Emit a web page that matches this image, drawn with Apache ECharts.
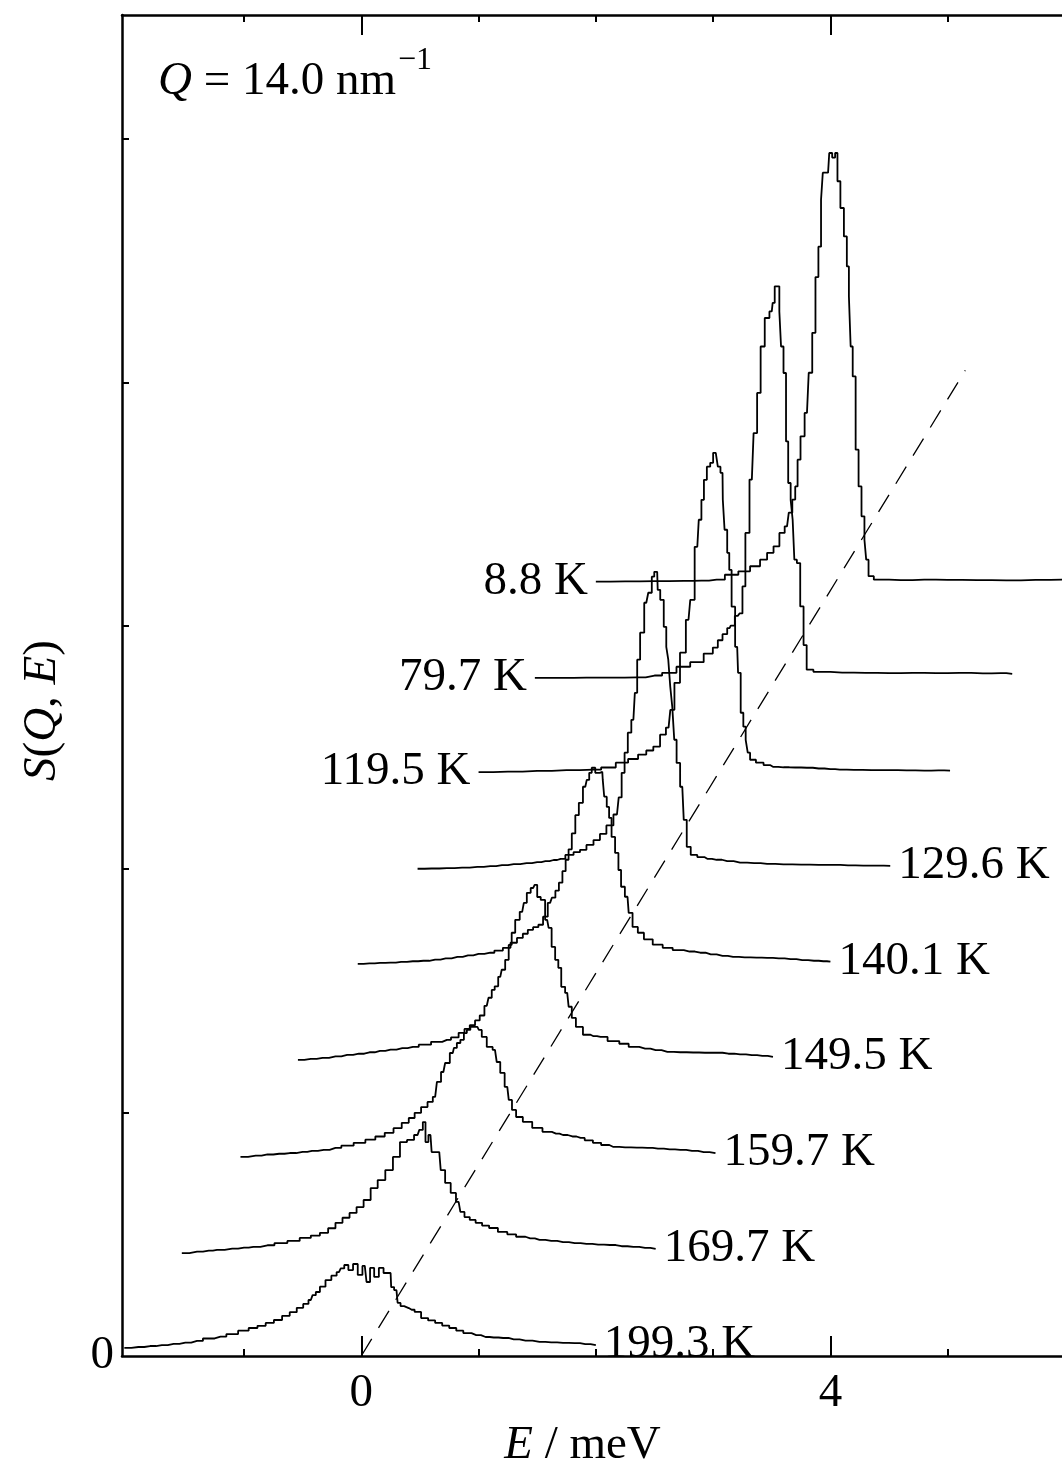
<!DOCTYPE html>
<html><head><meta charset="utf-8">
<script src="https://cdn.jsdelivr.net/npm/echarts@6/dist/echarts.min.js"></script>
<style>html,body{margin:0;padding:0;background:#fff}#c{width:1062px;height:1472px}</style>
</head><body><div id="c"></div>
<script>
// ---- data (own-frame energy E in meV, intensity S), waterfall shifts ----
const temps  = ['199.3 K','169.7 K','159.7 K','149.5 K','140.1 K','129.6 K','119.5 K','79.7 K','8.8 K'];
const shiftE = [0, 0.5, 1.0, 1.5, 2.0, 2.5, 3.0, 3.5, 4.0];
const shiftS = [0, 0.393, 0.786, 1.179, 1.572, 1.965, 2.358, 2.751, 3.144];
const labelSide = ['right','right','right','right','right','right','left','left','left'];

const E_1993 = [-2.02,-1.9,-1.8,-1.7,-1.6,-1.5,-1.4,-1.3,-1.2,-1.1,-1.0,-0.92,-0.85,-0.78,-0.71,-0.64,-0.58,-0.52,-0.47,-0.43,-0.40,-0.375,-0.33,-0.28,-0.23,-0.19,-0.16,-0.13,-0.09,-0.05,-0.01,0.03,0.06,0.09,0.13,0.17,0.21,0.25,0.26,0.30,0.32,0.35,0.38,0.43,0.48,0.54,0.60,0.66,0.72,0.78,0.84,0.90,0.98,1.06,1.13,1.21,1.30,1.40,1.52,1.62,1.72,1.82,1.91,2.00];
const S_1993 = [0.033,0.037,0.041,0.045,0.050,0.055,0.062,0.072,0.080,0.090,0.104,0.115,0.124,0.136,0.148,0.165,0.180,0.198,0.214,0.230,0.250,0.263,0.285,0.312,0.330,0.345,0.360,0.374,0.353,0.378,0.333,0.370,0.304,0.362,0.325,0.362,0.341,0.341,0.283,0.271,0.218,0.205,0.197,0.190,0.181,0.156,0.146,0.136,0.125,0.115,0.104,0.094,0.086,0.078,0.076,0.074,0.068,0.063,0.058,0.056,0.054,0.053,0.049,0.045];

const E_1697 = [-2.03,-1.9,-1.8,-1.73,-1.6,-1.5,-1.42,-1.3,-1.18,-1.08,-0.97,-0.89,-0.815,-0.75,-0.69,-0.63,-0.57,-0.51,-0.45,-0.39,-0.33,-0.26,-0.20,-0.14,-0.08,-0.02,0.01,0.04,0.055,0.09,0.11,0.165,0.19,0.24,0.285,0.33,0.36,0.40,0.45,0.50,0.56,0.62,0.71,0.78,0.86,0.94,1.02,1.12,1.22,1.32,1.42,1.52,1.62,1.72,1.82,1.92,2.01];
const S_1697 = [0.030,0.036,0.040,0.043,0.048,0.052,0.055,0.062,0.071,0.080,0.092,0.102,0.113,0.132,0.154,0.175,0.195,0.219,0.248,0.297,0.330,0.371,0.425,0.486,0.495,0.515,0.536,0.568,0.486,0.515,0.445,0.445,0.371,0.318,0.277,0.240,0.199,0.178,0.166,0.154,0.143,0.133,0.117,0.107,0.097,0.090,0.084,0.080,0.075,0.071,0.068,0.065,0.063,0.058,0.055,0.051,0.047];

const E_1597 = [-2.03,-1.9,-1.8,-1.7,-1.61,-1.5,-1.42,-1.32,-1.22,-1.12,-1.01,-0.92,-0.84,-0.76,-0.69,-0.62,-0.57,-0.52,-0.46,-0.41,-0.37,-0.34,-0.30,-0.27,-0.22,-0.20,-0.17,-0.14,-0.11,-0.09,-0.05,-0.01,0.015,0.04,0.10,0.14,0.17,0.20,0.245,0.27,0.30,0.34,0.415,0.50,0.59,0.66,0.72,0.80,0.87,0.94,1.01,1.08,1.15,1.25,1.35,1.44,1.53,1.63,1.72,1.82,1.92,2.02];
const S_1597 = [0.032,0.037,0.042,0.045,0.048,0.053,0.057,0.061,0.069,0.078,0.090,0.103,0.116,0.131,0.150,0.172,0.192,0.213,0.237,0.258,0.279,0.340,0.381,0.418,0.459,0.480,0.500,0.513,0.541,0.554,0.566,0.566,0.554,0.525,0.484,0.472,0.422,0.377,0.320,0.266,0.225,0.196,0.176,0.151,0.135,0.128,0.122,0.116,0.110,0.100,0.090,0.081,0.073,0.071,0.070,0.069,0.066,0.063,0.061,0.057,0.052,0.048];

const E_1495 = [-2.04,-1.93,-1.83,-1.72,-1.62,-1.52,-1.43,-1.34,-1.25,-1.15,-1.06,-0.96,-0.85,-0.77,-0.70,-0.64,-0.60,-0.55,-0.51,-0.47,-0.43,-0.40,-0.375,-0.35,-0.315,-0.29,-0.256,-0.23,-0.205,-0.17,-0.128,-0.10,-0.077,-0.034,-0.01,0.01,0.05,0.085,0.11,0.136,0.17,0.19,0.22,0.256,0.28,0.31,0.35,0.43,0.48,0.54,0.66,0.74,0.82,0.92,1.01,1.11,1.22,1.33,1.43,1.53,1.63,1.73,1.83,1.92,2.01];
const S_1495 = [0.038,0.042,0.046,0.052,0.058,0.063,0.069,0.075,0.080,0.086,0.091,0.100,0.112,0.120,0.130,0.149,0.165,0.180,0.200,0.220,0.260,0.293,0.325,0.340,0.379,0.408,0.449,0.510,0.560,0.613,0.646,0.683,0.724,0.744,0.757,0.707,0.695,0.613,0.580,0.502,0.449,0.416,0.338,0.313,0.256,0.210,0.173,0.141,0.135,0.132,0.115,0.104,0.091,0.084,0.078,0.071,0.069,0.068,0.067,0.067,0.063,0.060,0.057,0.054,0.050];

const E_1401 = [-2.03,-1.93,-1.84,-1.75,-1.66,-1.56,-1.47,-1.37,-1.28,-1.18,-1.09,-1.00,-0.90,-0.83,-0.755,-0.70,-0.645,-0.60,-0.56,-0.51,-0.47,-0.43,-0.39,-0.36,-0.33,-0.30,-0.27,-0.245,-0.22,-0.19,-0.16,-0.13,-0.09,-0.065,-0.048,-0.022,0.012,0.055,0.063,0.08,0.106,0.12,0.148,0.18,0.205,0.225,0.27,0.29,0.336,0.38,0.44,0.53,0.61,0.70,0.80,0.89,0.98,1.08,1.17,1.27,1.37,1.46,1.56,1.66,1.76,1.86,1.94,2.00];
const S_1401 = [0.039,0.041,0.043,0.044,0.047,0.050,0.052,0.057,0.062,0.068,0.074,0.080,0.085,0.094,0.105,0.126,0.146,0.163,0.179,0.190,0.200,0.233,0.290,0.311,0.340,0.373,0.420,0.467,0.510,0.575,0.650,0.701,0.767,0.795,0.824,0.845,0.824,0.828,0.795,0.726,0.684,0.639,0.561,0.495,0.425,0.356,0.315,0.249,0.191,0.167,0.140,0.118,0.105,0.096,0.090,0.085,0.078,0.072,0.068,0.066,0.065,0.064,0.062,0.059,0.055,0.052,0.050,0.048];

const E_1296 = [-2.02,-1.9,-1.77,-1.64,-1.51,-1.40,-1.30,-1.20,-1.09,-1.00,-0.93,-0.86,-0.80,-0.72,-0.66,-0.61,-0.55,-0.49,-0.44,-0.38,-0.32,-0.29,-0.27,-0.24,-0.215,-0.18,-0.155,-0.14,-0.105,-0.07,-0.036,-0.01,0.006,0.023,0.032,0.066,0.092,0.109,0.126,0.143,0.16,0.177,0.20,0.237,0.262,0.288,0.33,0.40,0.45,0.53,0.62,0.73,0.85,0.96,1.10,1.25,1.40,1.52,1.65,1.78,1.90,2.01];
const S_1296 = [0.037,0.038,0.040,0.042,0.045,0.048,0.052,0.056,0.060,0.064,0.068,0.073,0.078,0.094,0.105,0.115,0.135,0.155,0.180,0.215,0.260,0.330,0.431,0.514,0.596,0.649,0.760,0.896,1.007,1.130,1.171,1.237,1.257,1.257,1.183,1.142,1.031,0.949,0.896,0.785,0.703,0.567,0.472,0.374,0.238,0.127,0.094,0.085,0.078,0.074,0.068,0.062,0.060,0.057,0.055,0.054,0.053,0.053,0.051,0.050,0.050,0.049];

const E_1195 = [-2.00,-1.75,-1.50,-1.25,-1.02,-0.89,-0.77,-0.68,-0.60,-0.54,-0.48,-0.425,-0.38,-0.35,-0.31,-0.255,-0.21,-0.18,-0.135,-0.11,-0.09,-0.067,-0.04,-0.01,0.01,0.035,0.045,0.08,0.085,0.11,0.13,0.145,0.17,0.205,0.22,0.25,0.265,0.29,0.30,0.33,0.40,0.46,0.51,0.60,0.70,0.80,0.90,1.00,1.08,1.20,1.35,1.50,1.65,1.80,1.92,2.02];
const S_1195 = [0.041,0.043,0.046,0.049,0.051,0.060,0.080,0.095,0.113,0.130,0.146,0.195,0.224,0.297,0.408,0.532,0.667,0.749,0.967,1.078,1.160,1.242,1.296,1.312,1.353,1.353,1.296,1.271,1.160,1.037,0.942,0.872,0.721,0.556,0.449,0.285,0.228,0.174,0.121,0.092,0.080,0.070,0.063,0.061,0.060,0.059,0.056,0.053,0.051,0.050,0.049,0.049,0.048,0.047,0.048,0.047];

const E_797 = [-2.02,-1.80,-1.58,-1.36,-1.15,-1.00,-0.87,-0.755,-0.636,-0.525,-0.48,-0.44,-0.40,-0.36,-0.34,-0.29,-0.26,-0.24,-0.21,-0.17,-0.14,-0.11,-0.08,-0.04,0.00,0.015,0.035,0.057,0.072,0.086,0.114,0.129,0.151,0.171,0.185,0.200,0.228,0.257,0.285,0.31,0.40,0.60,0.80,1.00,1.20,1.40,1.60,1.80,1.95,2.05];
const S_797 = [0.035,0.035,0.036,0.036,0.037,0.045,0.056,0.081,0.100,0.135,0.160,0.190,0.215,0.240,0.250,0.290,0.300,0.411,0.631,0.850,1.041,1.206,1.397,1.514,1.541,1.576,1.644,1.644,1.541,1.397,1.288,1.007,0.836,0.767,0.685,0.521,0.507,0.329,0.170,0.069,0.060,0.057,0.056,0.055,0.056,0.055,0.056,0.054,0.055,0.052];

const E_88 = [-2.00,-1.75,-1.50,-1.25,-1.10,-0.97,-0.83,-0.74,-0.63,-0.57,-0.51,-0.46,-0.41,-0.37,-0.34,-0.31,-0.29,-0.27,-0.24,-0.20,-0.17,-0.14,-0.115,-0.09,-0.07,-0.06,-0.02,0.00,0.03,0.05,0.07,0.10,0.13,0.15,0.165,0.18,0.20,0.23,0.25,0.28,0.30,0.31,0.34,0.40,0.60,0.80,1.00,1.25,1.50,1.75,2.00];
const S_88 = [0.038,0.039,0.040,0.041,0.042,0.046,0.066,0.080,0.101,0.128,0.156,0.183,0.238,0.265,0.321,0.375,0.429,0.539,0.635,0.731,0.896,1.060,1.289,1.414,1.607,1.718,1.718,1.799,1.780,1.799,1.683,1.573,1.456,1.333,1.210,1.004,0.881,0.580,0.429,0.306,0.210,0.128,0.060,0.046,0.044,0.046,0.045,0.044,0.043,0.045,0.046];

const curvesE = [E_1993,E_1697,E_1597,E_1495,E_1401,E_1296,E_1195,E_797,E_88];
const curvesS = [S_1993,S_1697,S_1597,S_1495,S_1401,S_1296,S_1195,S_797,S_88];

const dashE = [0, 5.15];
const dashS = [0, 4.05];

const X_MIN = -2.04, X_MAX = 6.0, Y_MIN = 0, Y_MAX = 5.51;
const xMajorTicks = [0, 4];
const xMinorTicks = [-1, 1, 2, 3, 5];
const yTickVals = [1, 2, 3, 4, 5];
const yLabelVals = [0];

// ---- chart ----
const FONT = '"Liberation Serif", "Times New Roman", serif';
const INK = '#000';
const chart = echarts.init(document.getElementById('c'), null, {renderer: 'canvas'});

function xAxisDef(pos, ticks, len, showLine, showLabel, extra) {
  return Object.assign({
    type: 'value', position: pos, min: X_MIN, max: X_MAX,
    axisLine: {show: showLine, onZero: false, lineStyle: {color: INK, width: 2.5}},
    axisTick: {show: true, inside: true, length: len, customValues: ticks, lineStyle: {color: INK, width: 2}},
    axisLabel: {show: showLabel, customValues: xMajorTicks, fontFamily: FONT, fontSize: 47, color: INK, margin: 14},
    splitLine: {show: false}
  }, extra || {});
}

const series = [];
curvesE.forEach((E, k) => {
  const S = curvesS[k];
  series.push({
    type: 'line', name: temps[k], step: 'middle', symbol: 'none', silent: true,
    lineStyle: {color: INK, width: 1.8},
    data: E.map((e, i) => [e + shiftE[k], S[i] + shiftS[k]])
  });
});
series.push({
  type: 'line', symbol: 'none', silent: true,
  lineStyle: {color: INK, width: 1.3, type: [20, 13]},
  data: dashE.map((e, i) => [e, dashS[i]])
});
series.push({
  type: 'scatter', symbol: 'circle', symbolSize: 0, silent: true,
  itemStyle: {color: INK, opacity: 1},
  data: curvesE.map((E, k) => {
    const left = labelSide[k] === 'left';
    const i = left ? 0 : E.length - 1;
    return {
      value: [E[i] + shiftE[k], curvesS[k][i] + shiftS[k]],
      label: {show: true, position: left ? 'left' : 'right', distance: 8,
        formatter: temps[k], fontFamily: FONT, fontSize: 47, color: INK,
        textBorderWidth: 0, opacity: 1}
    };
  })
});

chart.setOption({
  animation: false,
  backgroundColor: '#fff',
  grid: {left: 122, top: 15, right: -3, bottom: 116, containLabel: false, outerBoundsMode: 'none'},
  graphic: [
    {type: 'text', left: 158, top: 58, style: {
      text: '{i|Q} = 14.0 nm', fill: INK, font: '47px ' + FONT,
      rich: {i: {fontStyle: 'italic', fontFamily: FONT, fontSize: 47, fill: INK}}
    }},
    {type: 'text', left: 398, top: 45, style: {text: '\u22121', fill: INK, font: '32px ' + FONT}}
  ],
  xAxis: [
    xAxisDef('bottom', xMajorTicks, 20, true, true, {
      name: '{i|E} / meV', nameLocation: 'middle', nameGap: 63,
      nameTextStyle: {fontFamily: FONT, fontSize: 47, color: INK, padding: [0, 22, 0, 0],
        rich: {i: {fontStyle: 'italic', fontFamily: FONT, fontSize: 47, color: INK}}}
    }),
    xAxisDef('bottom', xMinorTicks, 7, false, false),
    xAxisDef('top', xMajorTicks, 20, true, false),
    xAxisDef('top', xMinorTicks, 7, false, false)
  ],
  yAxis: [
    {type: 'value', position: 'left', min: Y_MIN, max: Y_MAX,
     axisLine: {show: true, onZero: false, lineStyle: {color: INK, width: 2.5}},
     axisTick: {show: true, inside: true, length: 7, customValues: yTickVals, lineStyle: {color: INK, width: 2}},
     axisLabel: {show: true, customValues: yLabelVals, fontFamily: FONT, fontSize: 47, color: INK, margin: 8},
     splitLine: {show: false},
     name: '{i|S}({i|Q}, {i|E})', nameLocation: 'middle', nameGap: 56, nameRotate: 90,
     nameTextStyle: {fontFamily: FONT, fontSize: 47, color: INK, padding: [0, 50, 0, 0],
       rich: {i: {fontStyle: 'italic', fontFamily: FONT, fontSize: 47, color: INK}}}
    },
    {type: 'value', position: 'right', min: Y_MIN, max: Y_MAX,
     axisLine: {show: true, onZero: false, lineStyle: {color: INK, width: 2.5}},
     axisTick: {show: false}, axisLabel: {show: false}, splitLine: {show: false}}
  ],
  series: series
});
</script>
</body></html>
